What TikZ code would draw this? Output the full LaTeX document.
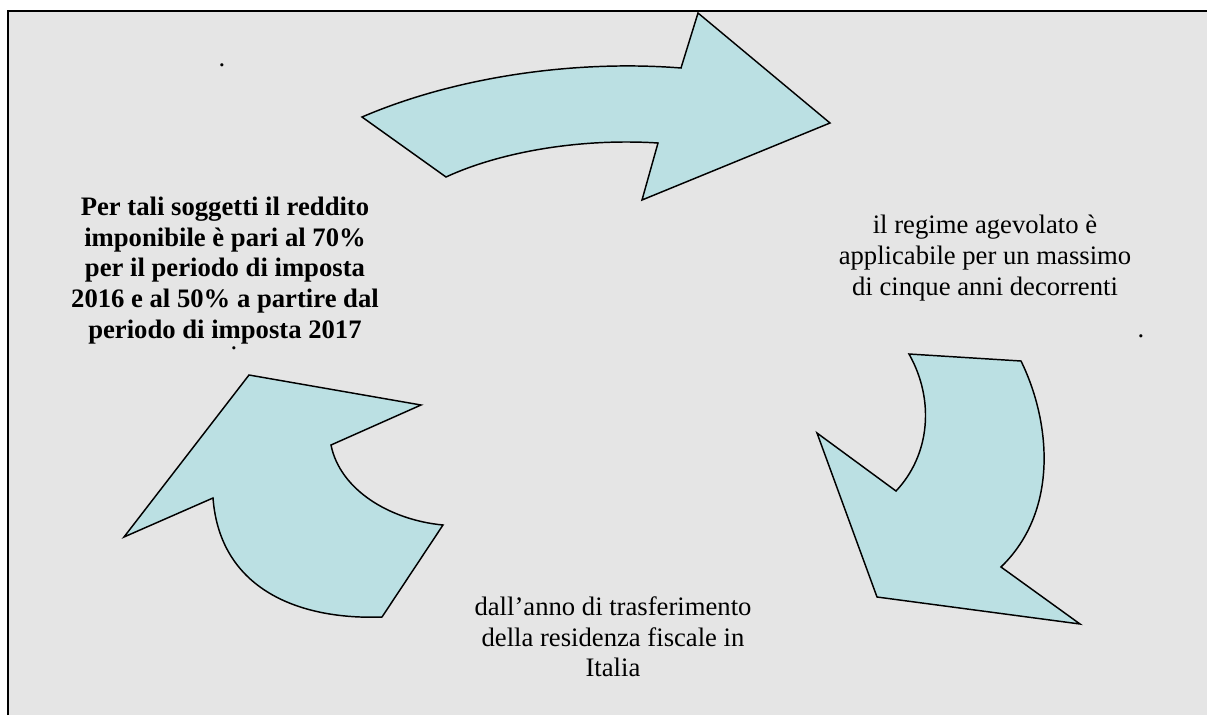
\documentclass[tikz,border=0pt]{standalone}
\usepackage{fontspec}
\setmainfont{Liberation Serif}
\definecolor{panelgrey}{HTML}{E5E5E5}
\definecolor{arrowcyan}{HTML}{BBE0E3}
\tikzset{
  bigarrow/.style={fill=arrowcyan, draw=black, line width=1.1pt, line join=miter},
  cycletext/.style={align=center, inner sep=0pt, font=\fontsize{20}{23}\selectfont},
  stray/.style={anchor=base, inner sep=0pt, font=\fontsize{20}{23}\selectfont}
}
\begin{document}
\begin{tikzpicture}[x=0.75pt, y=-0.75pt]
      \useasboundingbox (0,0) rectangle (1207,715);
      \fill[panelgrey] (8,11) rectangle (1207,715);
      \draw[line width=1.5pt] (8,715) -- (8,11) -- (1207,11);
      % top arrow
      \draw[bigarrow] (362,117) -- (446,177)
        .. controls (500,152) and (580,138) .. (658,143)
        -- (642,200) -- (830,123) -- (698,13) -- (681,68)
        .. controls (580,60) and (460,75) .. (362,117) -- cycle;
      % right arrow
      \draw[bigarrow] (909,354) -- (1021,361)
        .. controls (1050,420) and (1060,510) .. (1001,567)
        -- (1080,624) -- (877,597) -- (817,433) -- (896,491)
        .. controls (930,455) and (935,400) .. (909,354) -- cycle;
      % left arrow
      \draw[bigarrow] (382,617) -- (443,525)
        .. controls (390,520) and (340,490) .. (331,445)
        -- (421,405) -- (249,375) -- (124,537) -- (213,498)
        .. controls (220,590) and (300,620) .. (382,617) -- cycle;
      \node[cycletext, font=\fontsize{20}{23}\selectfont\bfseries, anchor=base] (tassa) at (225,338)
        {Per tali soggetti il reddito\\imponibile è pari al 70\%\\per il periodo di imposta\\2016 e al 50\% a partire dal\\periodo di imposta 2017};
      \node[cycletext] (regime) at (985,258)
        {il regime agevolato è\\applicabile per un massimo\\di cinque anni decorrenti};
      \node[cycletext] (trasf) at (613,637)
        {dall’anno di trasferimento\\della residenza fiscale in\\Italia};
      \node[stray] (dotA) at (222,66) {.};
      \node[stray] (dotB) at (1141,337) {.};
      \node[stray, anchor=north] (dotC) at ([yshift=-6pt]tassa.base -| 234,0) {.};
    \end{tikzpicture}
\end{document}
